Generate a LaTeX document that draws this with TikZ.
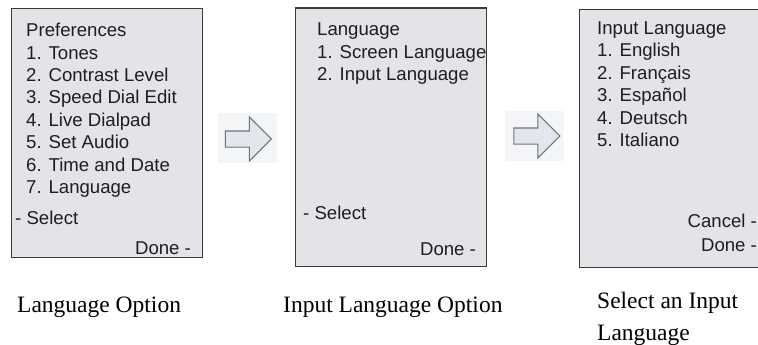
\documentclass[tikz,border=0pt]{standalone}
\usepackage{fontspec}
\setmainfont{Liberation Serif}
\setsansfont{Liberation Sans}
\definecolor{PhoneScreen}{HTML}{E4E4E8}
\definecolor{PhoneEdge}{HTML}{3A3A3A}
\definecolor{PhoneInk}{HTML}{1E1E1E}
\definecolor{StepFill}{HTML}{E2E7EE}
\definecolor{StepEdge}{HTML}{6E7378}
\definecolor{StepSoft}{HTML}{F3F5F7}
\usetikzlibrary{positioning,shapes.arrows}

\tikzset{
  screen/.style={
    rectangle,
    draw=PhoneEdge,
    fill=PhoneScreen,
    line width=1.1pt,
    inner sep=0pt,
    anchor=north west
  },
  menutext/.style={
    font=\sffamily\fontsize{18.6}{22.4}\selectfont,
    text=PhoneInk,
    align=left,
    inner sep=0pt
  },
  stepbg/.style={
    rectangle,
    fill=StepSoft,
    inner sep=0pt,
    minimum width=59pt,
    minimum height=50pt
  },
  nextarrow/.style={
    single arrow,
    draw=StepEdge,
    fill=StepFill,
    line width=1.1pt,
    inner xsep=0pt,
    inner ysep=7.5pt,
    minimum height=46pt,
    single arrow head extend=14pt,
    single arrow tip angle=90,
    anchor=west
  },
  caption/.style={
    font=\fontsize{23.5}{32}\selectfont,
    align=left,
    inner sep=0pt,
    anchor=north west
  }
}

\begin{document}
\begin{tikzpicture}
    \useasboundingbox (0pt,0pt) rectangle (758pt,-345pt);

    % the three phone screens
    \node[screen, minimum width=191pt, minimum height=249pt] (prefs) at (11pt,-8pt) {};
    \node[screen, minimum width=191pt, minimum height=258pt] (lang) at (295pt,-7.5pt) {};
    \node[screen, minimum width=200pt, minimum height=258pt] (input) at (579pt,-9pt) {};

    % screen 1
    \node[menutext, anchor=north west] (prefslist) at ([xshift=15pt,yshift=-15pt]prefs.north west) {%
      Preferences\\
      1. Tones\\
      2. Contrast Level\\
      3. Speed Dial Edit\\
      4. Live Dialpad\\
      5. Set Audio\\
      6. Time and Date\\
      7. Language
    };
    \node[menutext, anchor=base west] (prefsselect) at ([xshift=4pt,yshift=33.5pt]prefs.south west) {- Select};
    \node[menutext, anchor=base east] (prefsdone) at ([xshift=-12pt,yshift=3.5pt]prefs.south east) {Done -};

    % screen 2
    \node[menutext, anchor=north west] (langlist) at ([xshift=22pt,yshift=-15.5pt]lang.north west) {%
      Language\\
      1. Screen Language\\
      2. Input Language
    };
    \node[menutext, anchor=base west] (langselect) at ([xshift=8pt,yshift=47pt]lang.south west) {- Select};
    \node[menutext, anchor=base east] (langdone) at ([xshift=-11pt,yshift=11pt]lang.south east) {Done -};

    % screen 3
    \node[menutext, anchor=north west] (inputlist) at ([xshift=18pt,yshift=-12.5pt]input.north west) {%
      Input Language\\
      1. English\\
      2. Français\\
      3. Español\\
      4. Deutsch\\
      5. Italiano
    };
    \node[menutext, anchor=base east] (inputcancel) at ([xshift=-23pt,yshift=40.5pt]input.south east) {Cancel -};
    \node[menutext, anchor=base east] (inputdone) at ([xshift=-23pt,yshift=16.5pt]input.south east) {Done -};

    % step arrows
    \node[stepbg] (pad1) at (247.5pt,-138pt) {};
    \node[nextarrow] (next1) at ([xshift=7pt,yshift=-1pt]pad1.west) {};
    \node[stepbg] (pad2) at (534pt,-136pt) {};
    \node[nextarrow] (next2) at ([xshift=9pt,yshift=0pt]pad2.west) {};

    % captions
    \node[caption] (cap1) at ([xshift=6pt,yshift=-39pt]prefs.south west) {Language Option};
    \node[caption] (cap2) at ([xshift=-12pt,yshift=-30pt]lang.south west) {Input Language Option};
    \node[caption] (cap3) at ([xshift=18pt,yshift=-24pt]input.south west) {Select an Input\\Language};
  \end{tikzpicture}
\end{document}
